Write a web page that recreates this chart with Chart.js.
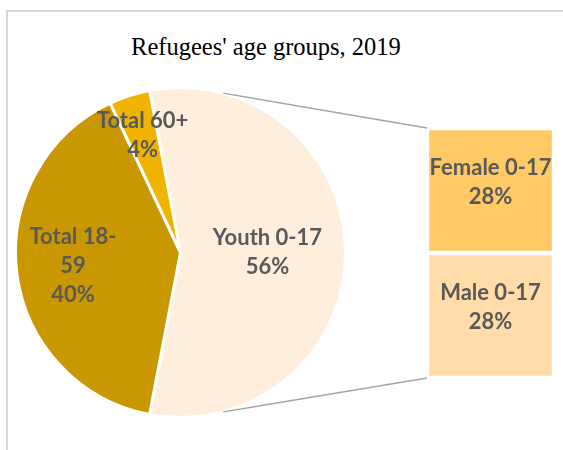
<!DOCTYPE html>
<html>
<head>
<meta charset="utf-8">
<script src="https://cdn.jsdelivr.net/npm/chart.js@4.4.1/dist/chart.umd.min.js"></script>
<style>
html,body{margin:0;padding:0;background:#fff;}
#wrap{position:relative;width:563px;height:450px;overflow:hidden;background:#fff;}
#frame{position:absolute;left:6px;top:10px;width:620px;height:500px;border-left:2px solid #d9d9d9;border-top:2px solid #d9d9d9;}
#title{position:absolute;left:0;width:532px;top:35px;text-align:center;font-family:"Liberation Serif","Times New Roman",serif;font-size:24.5px;line-height:24.5px;color:#000;white-space:nowrap;}
#pieCanvas{position:absolute;left:10px;top:82px;}
#barCanvas{position:absolute;left:420px;top:120px;}
#lines{position:absolute;left:0;top:0;pointer-events:none;}
</style>
</head>
<body>
<div id="wrap">
  <div id="frame"></div>
  <div id="title">Refugees' age groups, 2019</div>
  <canvas id="pieCanvas" width="341" height="341"></canvas>
  <canvas id="barCanvas" width="143" height="270"></canvas>
  <svg id="lines" width="563" height="450"></svg>
</div>
<script>
// ---- data ----
const categories = ['Youth 0-17', 'Total 18-59', 'Total 60+'];
const shares = [56, 40, 4];
const barCategories = ['Female 0-17', 'Male 0-17'];
const barShares = [28, 28];

// ---- styles ----
const pieColors = ['#FFEEDC', '#C99800', '#F0B400'];
const barColors = ['#FFC966', '#FFDCA8'];
const pieLabelRadius = [0.527, 0.657, 0.744];
const pieLabelMaxWidth = [200, 95, 200];
const LABEL_FONT = 'bold 22px Lato, "Open Sans", sans-serif';
const LABEL_COLOR = '#595959';
const LINE_H = 29;
const CONNECTOR_ANGLE = 15; // degrees off vertical

const sum = a => a.reduce((x, y) => x + y, 0);
const total = sum(shares);

function wrap(ctx, text, maxW) {
  const toks = text.split(/(?<=[ \-])/);
  const out = [];
  let line = '';
  toks.forEach(t => {
    const test = (line + t).trimEnd();
    if (line && ctx.measureText(test).width > maxW) {
      out.push(line.trimEnd());
      line = t;
    } else {
      line += t;
    }
  });
  if (line) out.push(line.trimEnd());
  return out;
}
function drawLines(ctx, lines, x, y) {
  const y0 = y - (lines.length - 1) * LINE_H / 2;
  lines.forEach((l, k) => ctx.fillText(l, x, y0 + k * LINE_H));
}

const pieLabelPlugin = {
  id: 'pieLabels',
  afterDatasetsDraw(chart) {
    const ctx = chart.ctx;
    const meta = chart.getDatasetMeta(0);
    ctx.save();
    ctx.font = LABEL_FONT;
    ctx.fillStyle = LABEL_COLOR;
    ctx.textAlign = 'center';
    ctx.textBaseline = 'middle';
    meta.data.forEach((arc, i) => {
      const mid = (arc.startAngle + arc.endAngle) / 2;
      const r = arc.outerRadius * pieLabelRadius[i];
      const x = arc.x + Math.cos(mid) * r;
      const y = arc.y + Math.sin(mid) * r;
      const lines = wrap(ctx, categories[i], pieLabelMaxWidth[i]);
      lines.push(Math.round(shares[i] / total * 100) + '%');
      drawLines(ctx, lines, x, y);
    });
    ctx.restore();
  }
};

const barLabelPlugin = {
  id: 'barLabels',
  afterDatasetsDraw(chart) {
    const ctx = chart.ctx;
    ctx.save();
    ctx.font = LABEL_FONT;
    ctx.fillStyle = LABEL_COLOR;
    ctx.textAlign = 'center';
    ctx.textBaseline = 'middle';
    chart.data.datasets.forEach((ds, di) => {
      const el = chart.getDatasetMeta(di).data[0];
      const cy = (el.y + el.base) / 2 - 8;
      drawLines(ctx, [ds.label, ds.data[0] + '%'], el.x, cy);
    });
    ctx.restore();
  }
};

const pieChart = new Chart(document.getElementById('pieCanvas'), {
  type: 'pie',
  data: {
    labels: categories,
    datasets: [{
      data: shares,
      backgroundColor: pieColors,
      borderColor: '#ffffff',
      borderWidth: 3,
      hoverOffset: 0
    }]
  },
  options: {
    responsive: false,
    animation: false,
    rotation: 90 - shares[0] / total * 180,
    layout: { padding: 4 },
    plugins: { legend: { display: false }, tooltip: { enabled: false }, title: { display: false } },
    events: []
  },
  plugins: [pieLabelPlugin]
});

const barDatasets = barCategories.map((c, i) => ({
  label: c,
  data: [barShares[i]],
  backgroundColor: barColors[i],
  borderColor: '#ffffff',
  borderWidth: 2.5,
  borderSkipped: false,
  categoryPercentage: 1,
  barPercentage: 1
})).reverse();

const barChart = new Chart(document.getElementById('barCanvas'), {
  type: 'bar',
  data: { labels: [categories[0]], datasets: barDatasets },
  options: {
    responsive: false,
    animation: false,
    layout: { padding: { left: 7, right: 9, top: 8, bottom: 12 } },
    scales: {
      x: { stacked: true, display: false },
      y: { stacked: true, display: false, min: 0, max: sum(barShares) }
    },
    plugins: { legend: { display: false }, tooltip: { enabled: false } },
    events: []
  },
  plugins: [barLabelPlugin]
});

// ---- connector lines from pie to bar ----
(function drawConnectors() {
  const pc = document.getElementById('pieCanvas');
  const bc = document.getElementById('barCanvas');
  const arc = pieChart.getDatasetMeta(0).data[0];
  const cx = arc.x + pc.offsetLeft, cy = arc.y + pc.offsetTop, R = arc.outerRadius;
  const a = CONNECTOR_ANGLE * Math.PI / 180;
  const metas = barDatasets.map((d, i) => barChart.getDatasetMeta(i).data[0]);
  const bottomEl = metas[0], topEl = metas[metas.length - 1];
  const bx = topEl.x - topEl.width / 2 + bc.offsetLeft;
  const bTop = topEl.y + bc.offsetTop;
  const bBot = bottomEl.base + bc.offsetTop;
  const svg = document.getElementById('lines');
  const mk = (x1, y1, x2, y2) => {
    const l = document.createElementNS('http://www.w3.org/2000/svg', 'line');
    l.setAttribute('x1', x1); l.setAttribute('y1', y1);
    l.setAttribute('x2', x2); l.setAttribute('y2', y2);
    l.setAttribute('stroke', '#A5A5A5'); l.setAttribute('stroke-width', '1.5');
    svg.appendChild(l);
  };
  mk(cx + R * Math.sin(a), cy - R * Math.cos(a), bx, bTop);
  mk(cx + R * Math.sin(a), cy + R * Math.cos(a), bx, bBot);
})();
</script>
</body>
</html>
